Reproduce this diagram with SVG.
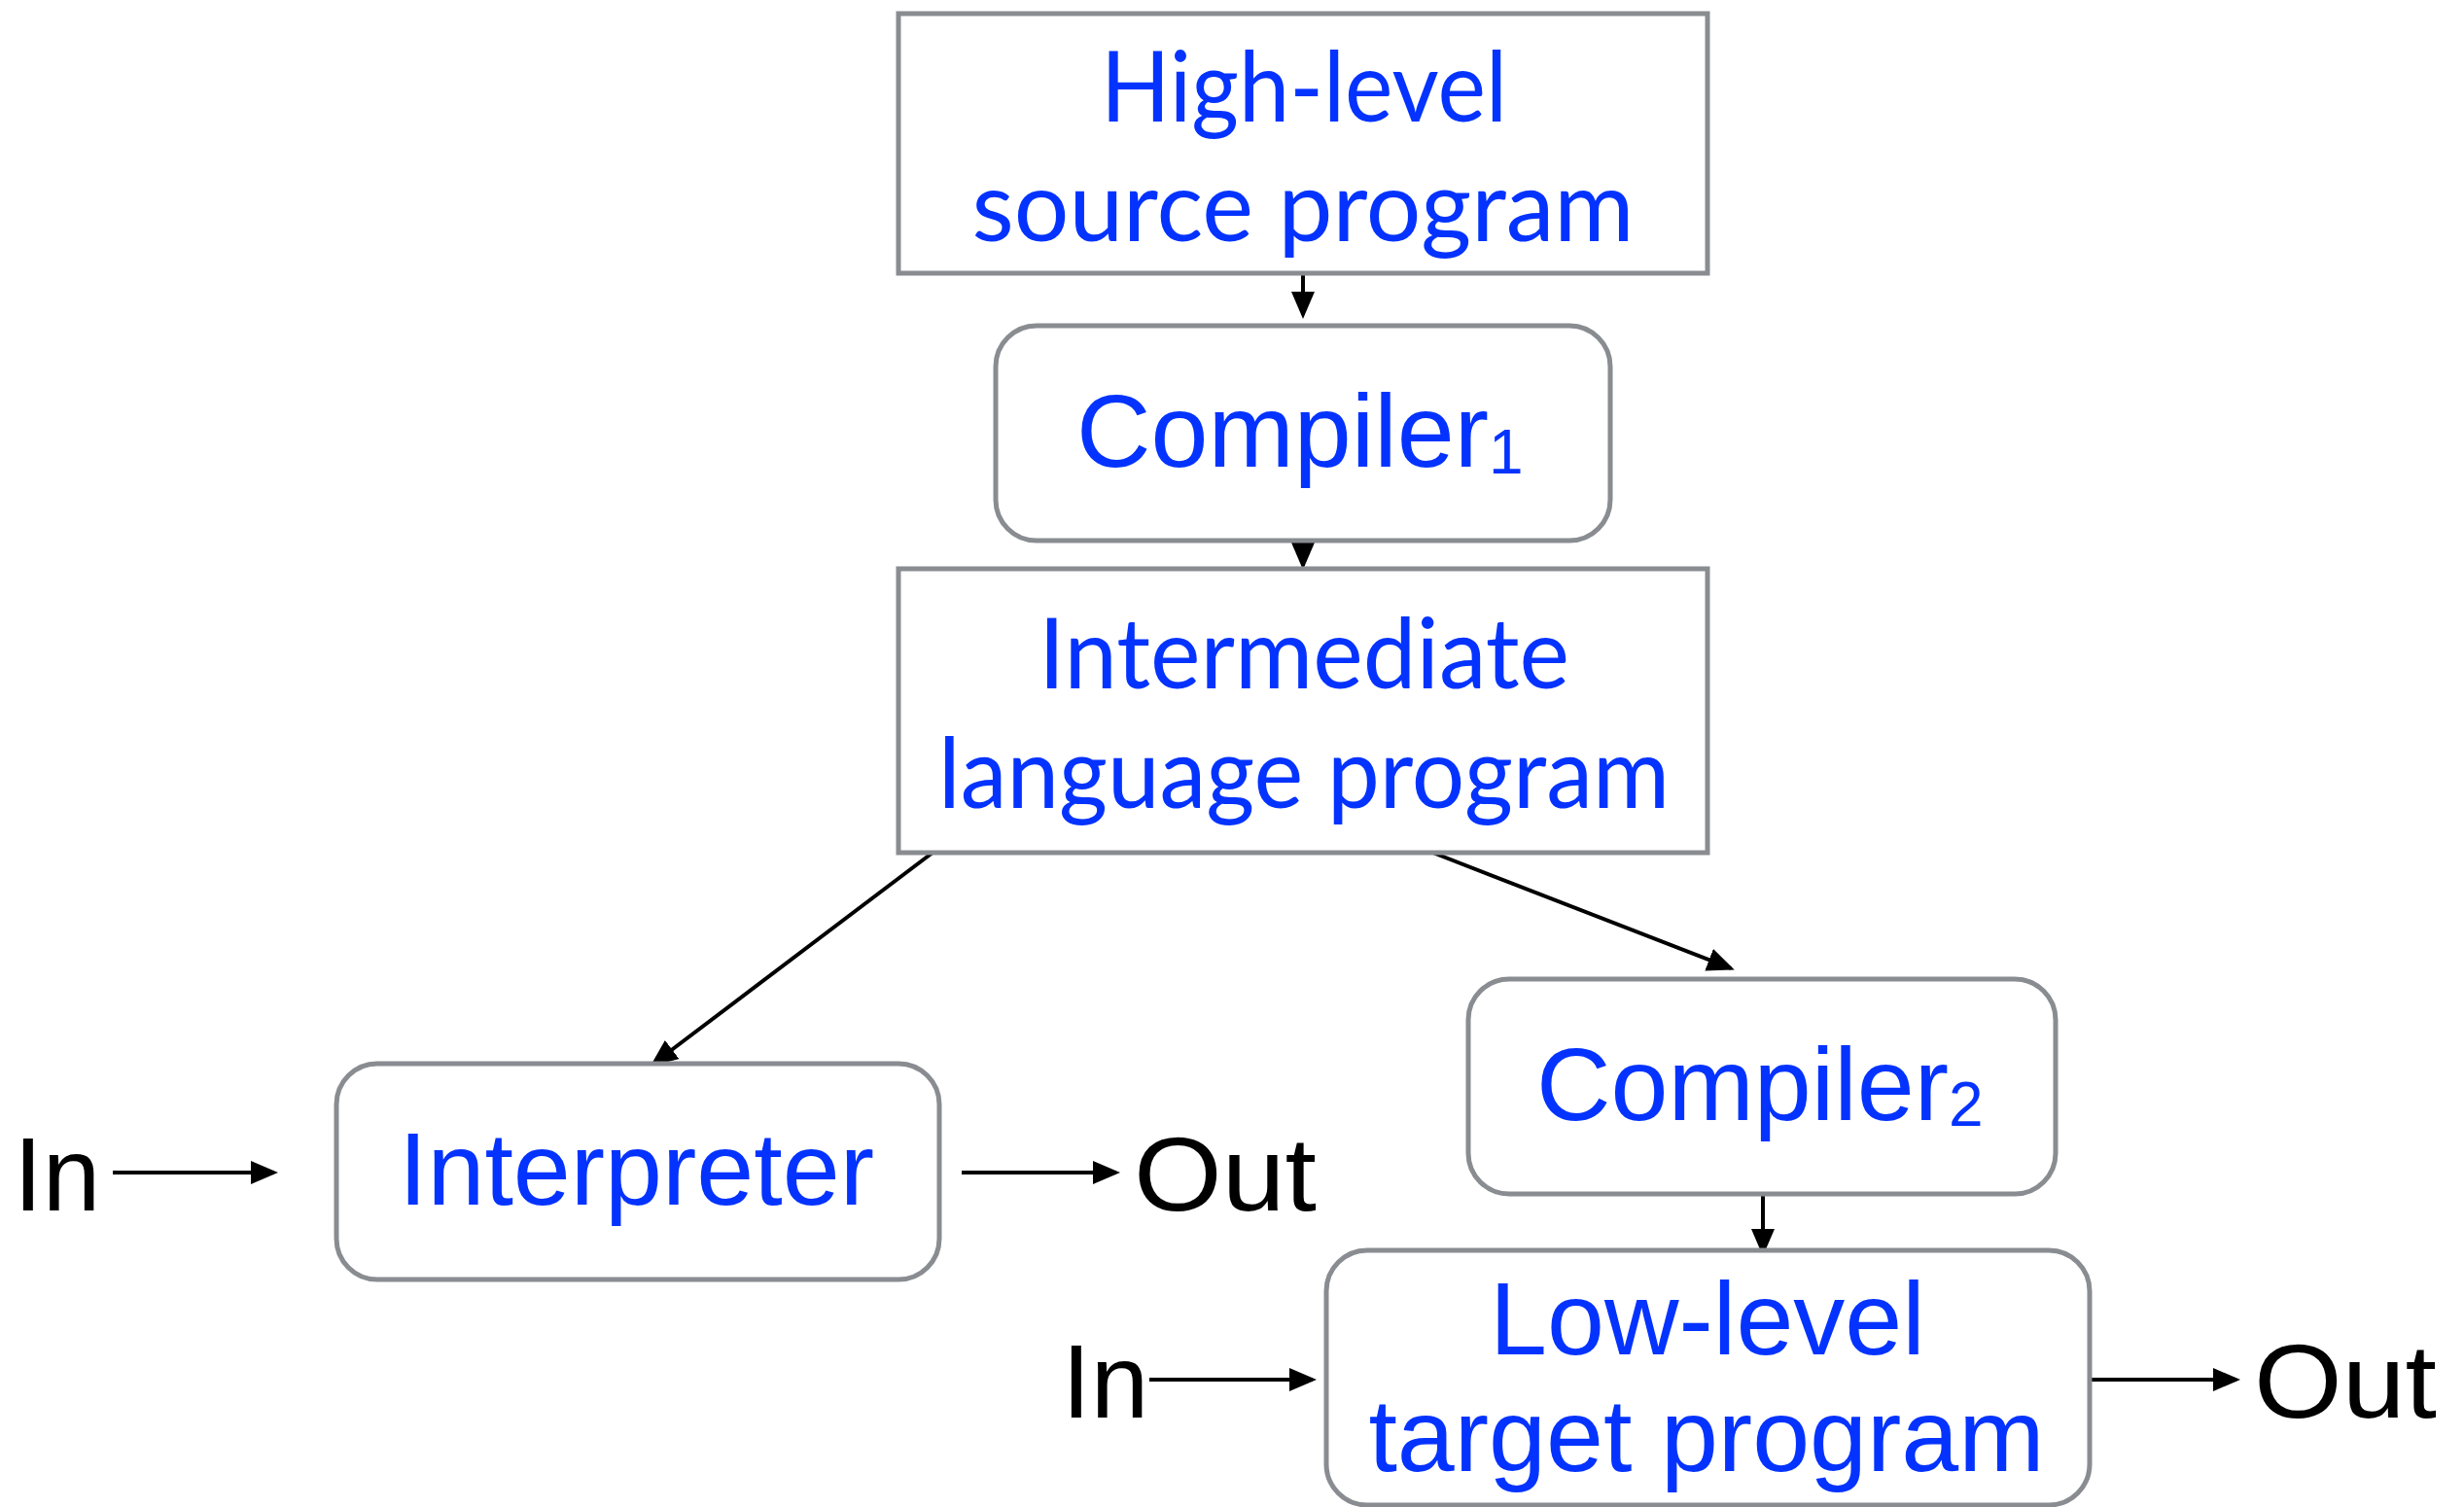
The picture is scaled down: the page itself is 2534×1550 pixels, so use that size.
<svg xmlns="http://www.w3.org/2000/svg" width="2534" height="1550" viewBox="0 0 2534 1550">
<style>
.box{fill:#fff;stroke:#898c90;stroke-width:5}
.g{font-family:Lato,"Open Sans",sans-serif;font-size:100px;fill:#0433ff;text-anchor:middle}
.h{font-family:"Liberation Sans",Arial,sans-serif;font-size:106px;fill:#0433ff}
.k{font-family:"Liberation Sans",Arial,sans-serif;font-size:107px;fill:#000}
.c{stroke:#000;stroke-width:4;fill:none;marker-end:url(#ah)}
</style>
<defs>
<marker id="ah" markerWidth="7" markerHeight="6" refX="6" refY="3" orient="auto" markerUnits="strokeWidth">
<path d="M0,0 L7,3 L0,6 Z" fill="#000"/>
</marker>
</defs>
<rect width="2534" height="1550" fill="#fff"/>
<g id="connectors">
<line class="c" x1="1340" y1="283" x2="1340" y2="324"/>
<line class="c" x1="1340" y1="545" x2="1340" y2="582"/>
<line class="c" x1="963" y1="874" x2="672" y2="1094"/>
<line class="c" x1="1466" y1="874" x2="1780" y2="996"/>
<line class="c" x1="1813" y1="1229" x2="1813" y2="1288"/>
<line class="c" x1="116" y1="1206" x2="282" y2="1206"/>
<line class="c" x1="989" y1="1206" x2="1148" y2="1206"/>
<line class="c" x1="1182" y1="1419" x2="1350" y2="1419"/>
<line class="c" x1="2142" y1="1419" x2="2300" y2="1419"/>
</g>
<g id="high-level">
<rect class="box" x="924" y="14" width="832" height="267"/>
<text class="g" x="1341" y="125" textLength="418" lengthAdjust="spacingAndGlyphs">High-level</text>
<text class="g" x="1340" y="248" textLength="681" lengthAdjust="spacingAndGlyphs">source program</text>
</g>
<g id="compiler1">
<rect class="box" x="1024" y="335" width="632" height="221" rx="42"/>
<text class="h" x="1107" y="480">Compiler<tspan font-size="64" dy="7">1</tspan></text>
</g>
<g id="intermediate">
<rect class="box" x="924" y="585" width="832" height="292"/>
<text class="g" x="1341" y="708" textLength="546" lengthAdjust="spacingAndGlyphs">Intermediate</text>
<text class="g" x="1341" y="831" textLength="752" lengthAdjust="spacingAndGlyphs">language program</text>
</g>
<g id="interpreter">
<rect class="box" x="346" y="1094" width="620" height="222" rx="42"/>
<text class="h" x="410" y="1239">Interpreter</text>
</g>
<g id="compiler2">
<rect class="box" x="1510" y="1007" width="604" height="221" rx="42"/>
<text class="h" x="1580" y="1152">Compiler<tspan font-size="64" dy="6">2</tspan></text>
</g>
<g id="low-level">
<rect class="box" x="1364" y="1286" width="785" height="262" rx="42"/>
<text class="h" x="1756" y="1393" text-anchor="middle">Low-level</text>
<text class="h" x="1755" y="1513" text-anchor="middle">target program</text>
</g>
<g id="labels">
<text class="k" x="14" y="1245">In</text>
<text class="k" x="1166" y="1245" textLength="188" lengthAdjust="spacingAndGlyphs">Out</text>
<text class="k" x="1092" y="1458">In</text>
<text class="k" x="2318" y="1458" textLength="188" lengthAdjust="spacingAndGlyphs">Out</text>
</g>
</svg>
